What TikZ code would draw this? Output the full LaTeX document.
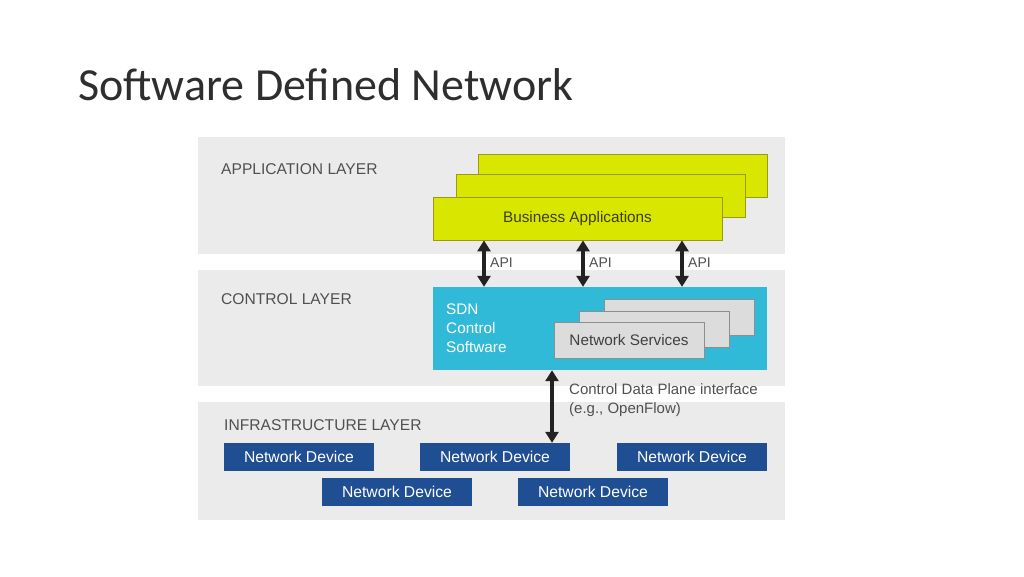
\documentclass[tikz,border=0pt]{standalone}
\usepackage{fontspec}
\setmainfont{Liberation Sans}
\newfontfamily\titlefont{Carlito}
\usetikzlibrary{arrows.meta}
\definecolor{bandgray}{HTML}{EBEBEB}
\definecolor{appyellow}{HTML}{D8E600}
\definecolor{appborder}{HTML}{9A9A1A}
\definecolor{sdncyan}{HTML}{31B9D8}
\definecolor{nsgray}{HTML}{DCDCDC}
\definecolor{nsborder}{HTML}{8E8E8E}
\definecolor{devblue}{HTML}{1F4E92}
\definecolor{labelgray}{HTML}{505050}
\definecolor{arrowdark}{HTML}{222222}
\tikzset{
  band/.style={fill=bandgray, draw=none, inner sep=0pt, minimum width=587pt, minimum height=117pt},
  appbox/.style={fill=appyellow, draw=appborder, line width=0.8pt, inner sep=0pt, minimum width=289pt, minimum height=43pt},
  sdnbox/.style={fill=sdncyan, draw=none, inner sep=0pt, minimum width=334pt, minimum height=83pt},
  nsbox/.style={fill=nsgray, draw=nsborder, line width=0.8pt, inner sep=0pt, minimum width=150pt, minimum height=36pt},
  devbox/.style={fill=devblue, draw=none, inner sep=0pt, minimum width=150pt, minimum height=28pt, text=white, font=\fontsize{15.7}{18}\selectfont},
  layerlabel/.style={anchor=base west, inner sep=0pt, text=labelgray, font=\fontsize{15.6}{18}\selectfont},
  smalllabel/.style={anchor=base west, inner sep=0pt, text=labelgray, font=\fontsize{14}{17}\selectfont},
  sdntext/.style={anchor=base west, inner sep=0pt, text=white, font=\fontsize{15.3}{18}\selectfont},
  dblarrow/.style={draw=arrowdark, line width=3.8pt, {Triangle[length=11pt,width=13pt]}-{Triangle[length=11pt,width=13pt]}},
}
\begin{document}
\begin{tikzpicture}[x=1pt,y=-1pt]
\useasboundingbox[fill=white] (0,0) rectangle (1024,576);
% title
\node[anchor=base west, inner sep=0pt, font=\titlefont\fontsize{46}{55}\selectfont, text=black!82] (title) at (78,100) {Software Defined Network};
% bands
\node[band, minimum height=117pt] (appband) at (491.5,195.5) {};
\node[band, minimum height=116pt] (ctlband) at (491.5,328) {};
\node[band, minimum height=118pt] (infband) at (491.5,461) {};
\node[layerlabel] (applbl) at (221,174.5) {APPLICATION LAYER};
\node[layerlabel] (ctllbl) at (221,304.5) {CONTROL LAYER};
\node[layerlabel] (inflbl) at (224,430.5) {INFRASTRUCTURE LAYER};
% application boxes
\node[appbox] (app3) at (622.5,176) {};
\node[appbox] (app2) at (600.5,196) {};
\node[appbox, text=black!60!appborder, font=\fontsize{15.3}{18}\selectfont] (app1) at (577.5,218.5) {Business Applications};
% SDN
\node[sdnbox] (sdn) at (600,328.5) {};
\node[sdntext] (sdn1) at (446,314.5) {SDN};
\node[sdntext] (sdn2) at (446,333.5) {Control};
\node[sdntext] (sdn3) at (446,352.5) {Software};
\node[nsbox] (ns3) at (679,317) {};
\node[nsbox] (ns2) at (654,329) {};
\node[nsbox, text=black!75, font=\fontsize{15.3}{18}\selectfont] (ns1) at (629,340) {Network Services};
% devices
\node[devbox] (nd1) at (299,457) {Network Device};
\node[devbox] (nd2) at (495,457) {Network Device};
\node[devbox] (nd3) at (692,457) {Network Device};
\node[devbox] (nd4) at (397,491.5) {Network Device};
\node[devbox] (nd5) at (593,491.5) {Network Device};
% API arrows
\coordinate (a1) at (484,0);
\coordinate (a2) at (583,0);
\coordinate (a3) at (682,0);
\coordinate (c1) at (552,0);
\draw[dblarrow] (app1.south -| a1) -- (sdn.north -| a1);
\draw[dblarrow] (app1.south -| a2) -- (sdn.north -| a2);
\draw[dblarrow] (app1.south -| a3) -- (sdn.north -| a3);
\node[smalllabel] (api1) at (490,267) {API};
\node[smalllabel] (api2) at (589,267) {API};
\node[smalllabel] (api3) at (688,267) {API};
% control data plane arrow
\draw[dblarrow] (sdn.south -| c1) -- (nd2.north -| c1);
\node[smalllabel, font=\fontsize{15}{18}\selectfont] (cdp1) at (569,394) {Control Data Plane interface};
\node[smalllabel, font=\fontsize{15}{18}\selectfont] (cdp2) at (569,413) {(e.g., OpenFlow)};
\end{tikzpicture}
\end{document}
